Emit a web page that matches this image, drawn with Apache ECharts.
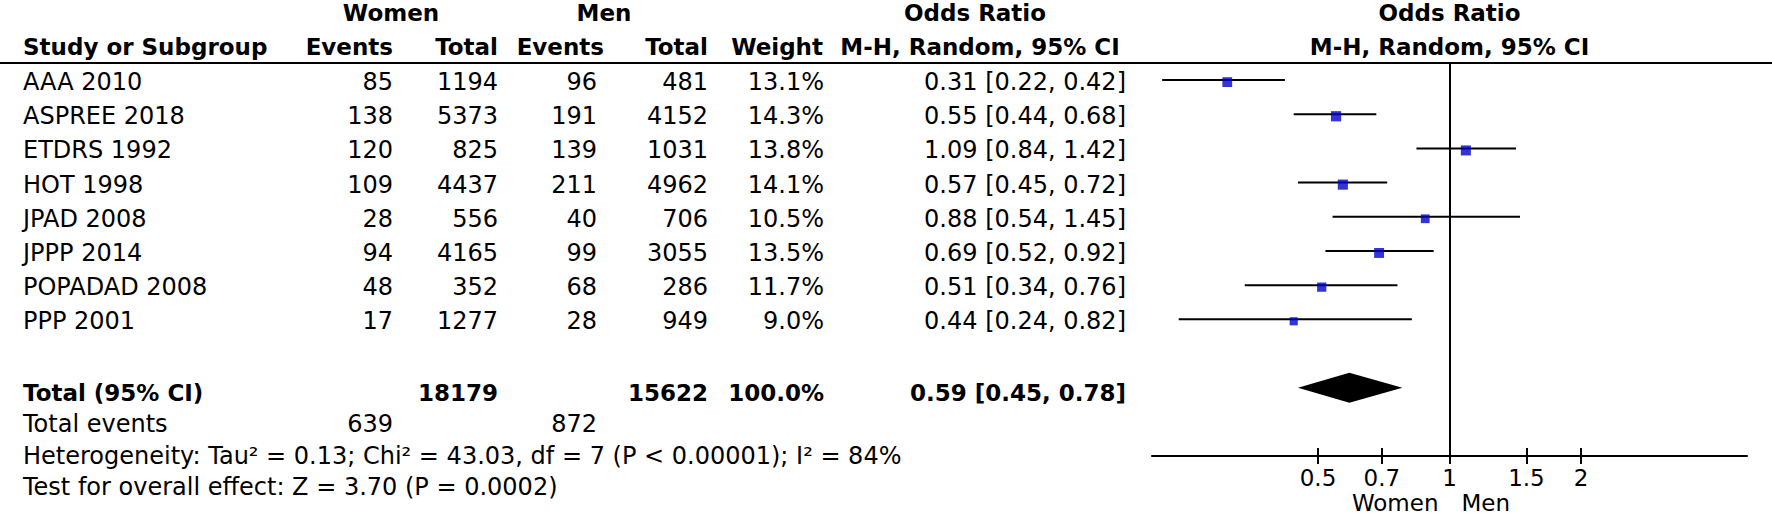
<!DOCTYPE html>
<html>
<head>
<meta charset="utf-8">
<script src="https://cdn.jsdelivr.net/npm/echarts@6/dist/echarts.min.js"></script>
<style>html,body{margin:0;padding:0;background:#fff;}#c{width:1772px;height:517px;}</style>
</head>
<body>
<div id="c"></div>
<script>
// ---- data ----
const studies = ['AAA 2010','ASPREE 2018','ETDRS 1992','HOT 1998','JPAD 2008','JPPP 2014','POPADAD 2008','PPP 2001'];
const womenEvents = [85,138,120,109,28,94,48,17];
const womenTotal = [1194,5373,825,4437,556,4165,352,1277];
const menEvents = [96,191,139,211,40,99,68,28];
const menTotal = [481,4152,1031,4962,706,3055,286,949];
const weights = [13.1,14.3,13.8,14.1,10.5,13.5,11.7,9.0];
const orEst = [0.31,0.55,1.09,0.57,0.88,0.69,0.51,0.44];
const ciLow = [0.22,0.44,0.84,0.45,0.54,0.52,0.34,0.24];
const ciHigh = [0.42,0.68,1.42,0.72,1.45,0.92,0.76,0.82];
const totalWomen = 18179, totalMen = 15622, totalWeight = 100.0;
const totalOR = [0.45, 0.59, 0.78];
const totalEventsWomen = 639, totalEventsMen = 872;
const heterogeneityText = 'Heterogeneity: Tau\u00b2 = 0.13; Chi\u00b2 = 43.03, df = 7 (P < 0.00001); I\u00b2 = 84%';
const overallText = 'Test for overall effect: Z = 3.70 (P = 0.0002)';
const tickValues = [0.5, 0.7, 1, 1.5, 2];
const totalRow = 9;

// ---- layout / style ----
const FONT = 'DejaVu Sans';
const REG = 24, BOLD = 23, AX = 23;
const BLUE = '#0000CC';

const chart = echarts.init(document.getElementById('c'), null, {renderer: 'svg'});

const ciData = studies.map((s, i) => [ciLow[i], ciHigh[i], i]);
const sqData = studies.map((s, i) => [orEst[i], i, weights[i]]);

const xCommon = {type: 'log', logBase: 10, min: 0.2085, max: 4.796, position: 'bottom', splitLine: {show: false}};

chart.setOption({
  animation: false,
  grid: {left: 1152, right: 25, top: 63, bottom: 61},
  xAxis: [
    Object.assign({}, xCommon, {
      axisLine: {show: true, onZero: false, lineStyle: {color: '#000', width: 2}},
      axisTick: {show: true, inside: false, length: 8, customValues: tickValues, lineStyle: {color: '#000', width: 2}},
      axisLabel: {show: true, customValues: tickValues, margin: 10, fontSize: AX, fontFamily: FONT, color: '#000',
        formatter: v => String(+Number(v).toFixed(2))}
    }),
    Object.assign({}, xCommon, {
      axisLine: {show: false, onZero: false},
      axisTick: {show: true, inside: true, length: 8, customValues: tickValues, lineStyle: {color: '#000', width: 2}},
      axisLabel: {show: false}
    })
  ],
  yAxis: {type: 'value', inverse: true, min: -0.5, max: 11, show: false},
  series: [
    {
      type: 'line', data: [], silent: true,
      markLine: {silent: true, symbol: 'none', label: {show: false},
        lineStyle: {color: '#000', width: 2, type: 'solid'}, data: [{xAxis: 1}]}
    },
    {
      type: 'custom', data: ciData, encode: {x: [0, 1], y: 2}, silent: true,
      renderItem: (params, api) => {
        const p1 = api.coord([api.value(0), api.value(2)]);
        const p2 = api.coord([api.value(1), api.value(2)]);
        return {type: 'line', shape: {x1: p1[0], y1: p1[1], x2: p2[0], y2: p2[1]},
          style: {stroke: '#000', lineWidth: 2}};
      }
    },
    {
      type: 'scatter', data: sqData, symbol: 'rect', silent: true,
      symbolSize: v => 2.7 * Math.sqrt(v[2]), symbolOffset: [0, 2],
      itemStyle: {color: BLUE}
    },
    {
      type: 'custom', data: [[totalOR[0], totalOR[1], totalOR[2], totalRow]], encode: {x: [0, 1, 2], y: 3}, silent: true,
      renderItem: (params, api) => {
        const y = api.value(3);
        const a = api.coord([api.value(0), y]);
        const b = api.coord([api.value(1), y]);
        const c = api.coord([api.value(2), y]);
        const h = 15;
        return {type: 'polygon', shape: {points: [[a[0], a[1]], [b[0], b[1] - h], [c[0], c[1]], [b[0], b[1] + h]]},
          style: {fill: '#000'}};
      }
    }
  ]
});

// ---- table text ----
const rowY = i => chart.convertToPixel({yAxisIndex: 0}, i);
const oneX = chart.convertToPixel({xAxisIndex: 0}, 1);
const els = [];
function txt(text, x, y, align, bold, size) {
  els.push({type: 'text', x: x, y: y, silent: true, style: {
    text: String(text), fill: '#000', fontFamily: FONT,
    fontSize: size || (bold ? BOLD : REG), fontWeight: bold ? 'bold' : 'normal',
    align: align, verticalAlign: 'middle'}});
}
const COL = {name: 23, wEv: 393, wTot: 498, mEv: 597, mTot: 708, wt: 824, ci: 1126};
const fmtCI = (e, l, h) => e.toFixed(2) + ' [' + l.toFixed(2) + ', ' + h.toFixed(2) + ']';

// headers
txt('Women', 391, 13, 'center', true);
txt('Men', 604, 13, 'center', true);
txt('Odds Ratio', 975, 13, 'center', true);
txt('Odds Ratio', oneX, 13, 'center', true);
txt('Study or Subgroup', COL.name, 47, 'left', true);
txt('Events', 393, 47, 'right', true);
txt('Total', 498, 47, 'right', true);
txt('Events', 604, 47, 'right', true);
txt('Total', 708, 47, 'right', true);
txt('Weight', 823, 47, 'right', true);
txt('M-H, Random, 95% CI', 980, 47, 'center', true);
txt('M-H, Random, 95% CI', oneX, 47, 'center', true);
els.push({type: 'line', silent: true, shape: {x1: 0, y1: 63, x2: 1772, y2: 63}, style: {stroke: '#000', lineWidth: 2}});

studies.forEach((s, i) => {
  const y = rowY(i) + 2;
  txt(s, COL.name, y, 'left');
  txt(womenEvents[i], COL.wEv, y, 'right');
  txt(womenTotal[i], COL.wTot, y, 'right');
  txt(menEvents[i], COL.mEv, y, 'right');
  txt(menTotal[i], COL.mTot, y, 'right');
  txt(weights[i].toFixed(1) + '%', COL.wt, y, 'right');
  txt(fmtCI(orEst[i], ciLow[i], ciHigh[i]), COL.ci, y, 'right');
});

const ty = rowY(totalRow) + 5;
txt('Total (95% CI)', COL.name, ty, 'left', true);
txt(totalWomen, COL.wTot, ty, 'right', true);
txt(totalMen, COL.mTot, ty, 'right', true);
txt(totalWeight.toFixed(1) + '%', COL.wt, ty, 'right', true);
txt(fmtCI(totalOR[1], totalOR[0], totalOR[2]), COL.ci, ty, 'right', true);

txt('Total events', COL.name, 424, 'left');
txt(totalEventsWomen, COL.wEv, 424, 'right');
txt(totalEventsMen, COL.mEv, 424, 'right');
txt(heterogeneityText, COL.name, 456, 'left');
txt(overallText, COL.name, 487, 'left');

txt('Women', oneX - 11, 503, 'right', false, AX);
txt('Men', oneX + 12, 503, 'left', false, AX);

chart.setOption({graphic: {elements: els}});
</script>
</body>
</html>
